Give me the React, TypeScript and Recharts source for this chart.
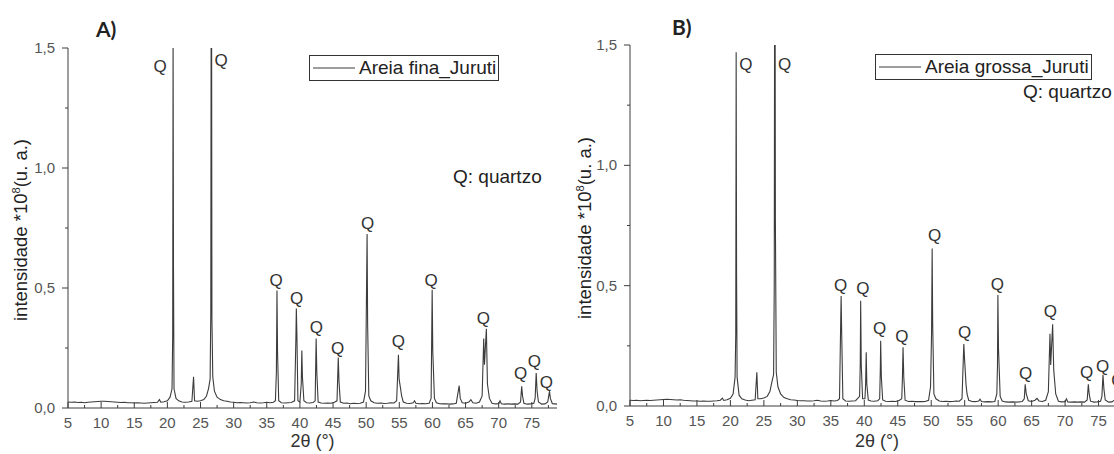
import React from "react";
import { LineChart, Line, XAxis, YAxis, ReferenceDot, Legend } from "recharts";

// A) Areia fina_Juruti
const twoThetaA = [
  5.0, 5.5, 6.0, 6.5, 7.0, 7.5, 8.0, 8.5, 9.0, 9.5, 10.0, 10.5, 11.0, 11.5, 12.0, 12.5, 13.0, 13.5, 14.0, 14.5,
  15.0, 15.5, 16.0, 16.5, 17.0, 17.5, 18.0, 18.5, 18.8, 19.0, 19.5, 20.0, 20.4, 20.7, 20.8, 20.86, 20.92, 21.0, 21.3, 21.7,
  22.2, 22.7, 23.2, 23.7, 23.95, 24.1, 24.5, 25.0, 25.5, 25.9, 26.2, 26.45, 26.55, 26.64, 26.72, 26.85, 27.1, 27.5, 28.0, 28.5,
  29.0, 29.5, 30.0, 30.5, 31.0, 31.5, 32.0, 32.5, 33.0, 33.5, 34.0, 34.5, 35.0, 35.5, 36.0, 36.3, 36.45, 36.54, 36.62, 36.8,
  37.2, 37.7, 38.2, 38.7, 39.2, 39.4, 39.46, 39.55, 39.7, 40.0, 40.2, 40.29, 40.38, 40.6, 41.0, 41.5, 42.0, 42.3, 42.45, 42.55,
  42.75, 43.2, 43.7, 44.2, 44.7, 45.2, 45.6, 45.79, 45.9, 46.1, 46.6, 47.1, 47.6, 48.1, 48.6, 49.1, 49.6, 49.9, 50.14, 50.22,
  50.4, 50.7, 51.2, 51.7, 52.2, 52.7, 53.2, 53.7, 54.2, 54.6, 54.87, 54.97, 55.2, 55.35, 55.6, 56.1, 56.6, 57.1, 57.3, 57.5,
  58.0, 58.5, 59.0, 59.5, 59.8, 59.96, 60.05, 60.3, 60.6, 61.1, 61.6, 62.1, 62.6, 63.1, 63.6, 64.04, 64.2, 64.5, 65.0, 65.5,
  65.8, 66.1, 66.6, 67.1, 67.5, 67.74, 67.85, 68.14, 68.3, 68.6, 69.0, 69.5, 70.0, 70.2, 70.4, 70.9, 71.4, 71.9, 72.4, 72.9,
  73.3, 73.47, 73.6, 73.8, 74.3, 74.8, 75.3, 75.5, 75.66, 75.8, 76.0, 76.5, 77.0, 77.4, 77.67, 77.8, 78.1, 78.5, 78.8,
];
const intensityA = [
  0.025, 0.024, 0.025, 0.023, 0.024, 0.022, 0.024, 0.025, 0.026, 0.027, 0.028, 0.028, 0.027, 0.026, 0.025, 0.024, 0.023, 0.024, 0.022, 0.022,
  0.021, 0.022, 0.021, 0.02, 0.021, 0.022, 0.023, 0.024, 0.035, 0.024, 0.026, 0.03, 0.045, 0.08, 0.3, 1.55, 0.59, 0.08, 0.04, 0.03,
  0.025, 0.024, 0.025, 0.028, 0.13, 0.03, 0.028, 0.03, 0.035, 0.05, 0.08, 0.12, 0.4, 2.5, 0.37, 0.13, 0.07, 0.045, 0.035, 0.03,
  0.028, 0.025, 0.024, 0.022, 0.023, 0.022, 0.021, 0.022, 0.025, 0.022, 0.021, 0.022, 0.024, 0.022, 0.024, 0.03, 0.15, 0.49, 0.24, 0.03,
  0.022, 0.021, 0.022, 0.023, 0.03, 0.3, 0.415, 0.3, 0.03, 0.025, 0.1, 0.24, 0.13, 0.03, 0.022, 0.021, 0.023, 0.03, 0.29, 0.15,
  0.025, 0.021, 0.02, 0.021, 0.02, 0.024, 0.03, 0.21, 0.11, 0.025, 0.02, 0.021, 0.018, 0.02, 0.019, 0.02, 0.025, 0.07, 0.725, 0.35,
  0.05, 0.03, 0.022, 0.02, 0.021, 0.019, 0.02, 0.022, 0.021, 0.03, 0.222, 0.12, 0.08, 0.05, 0.025, 0.02, 0.019, 0.022, 0.03, 0.02,
  0.018, 0.019, 0.018, 0.02, 0.04, 0.493, 0.24, 0.04, 0.022, 0.018, 0.017, 0.018, 0.016, 0.017, 0.02, 0.093, 0.04, 0.022, 0.02, 0.025,
  0.035, 0.022, 0.02, 0.025, 0.05, 0.29, 0.18, 0.33, 0.1, 0.04, 0.02, 0.017, 0.018, 0.03, 0.018, 0.016, 0.017, 0.016, 0.017, 0.016,
  0.025, 0.09, 0.05, 0.02, 0.016, 0.017, 0.02, 0.04, 0.146, 0.07, 0.025, 0.016, 0.017, 0.025, 0.07, 0.04, 0.018, 0.017, 0.016,
];

// B) Areia grossa_Juruti
const twoThetaB = [
  5.0, 5.5, 6.0, 6.5, 7.0, 7.5, 8.0, 8.5, 9.0, 9.5, 10.0, 10.5, 11.0, 11.5, 12.0, 12.5, 13.0, 13.5, 14.0, 14.5,
  15.0, 15.5, 16.0, 16.5, 17.0, 17.5, 18.0, 18.5, 18.8, 19.0, 19.5, 20.0, 20.4, 20.7, 20.8, 20.86, 20.92, 21.0, 21.3, 21.7,
  22.2, 22.7, 23.2, 23.7, 23.95, 24.1, 24.5, 25.0, 25.5, 25.9, 26.2, 26.45, 26.55, 26.64, 26.72, 26.85, 27.1, 27.5, 28.0, 28.5,
  29.0, 29.5, 30.0, 30.5, 31.0, 31.5, 32.0, 32.5, 33.0, 33.5, 34.0, 34.5, 35.0, 35.5, 36.0, 36.3, 36.45, 36.54, 36.62, 36.8,
  37.2, 37.7, 38.2, 38.7, 39.3, 39.4, 39.46, 39.55, 39.75, 40.1, 40.2, 40.29, 40.38, 40.6, 41.0, 41.5, 42.0, 42.3, 42.4, 42.45,
  42.55, 42.75, 43.2, 43.7, 44.2, 44.7, 45.2, 45.6, 45.7, 45.79, 45.9, 46.1, 46.6, 47.1, 47.6, 48.1, 48.6, 49.1, 49.6, 49.9,
  50.05, 50.14, 50.22, 50.4, 50.7, 51.2, 51.7, 52.2, 52.7, 53.2, 53.7, 54.2, 54.6, 54.8, 54.87, 54.97, 55.2, 55.35, 55.6, 56.1,
  56.6, 57.1, 57.3, 57.5, 58.0, 58.5, 59.0, 59.5, 59.8, 59.9, 59.96, 60.05, 60.3, 60.6, 61.1, 61.6, 62.1, 62.6, 63.1, 63.6,
  63.9, 64.04, 64.2, 64.5, 65.0, 65.5, 65.8, 66.1, 66.6, 67.1, 67.5, 67.74, 67.85, 68.14, 68.3, 68.6, 69.0, 69.5, 70.0, 70.2,
  70.4, 70.9, 71.4, 71.9, 72.4, 72.9, 73.3, 73.47, 73.6, 73.8, 74.3, 74.8, 75.3, 75.5, 75.66, 75.8, 76.0, 76.5, 77.0, 77.4,
  77.67, 77.8, 78.1, 78.5, 78.8,
];
const intensityB = [
  0.024, 0.023, 0.024, 0.022, 0.023, 0.024, 0.023, 0.024, 0.025, 0.026, 0.027, 0.028, 0.027, 0.026, 0.025, 0.026, 0.024, 0.023, 0.022, 0.021,
  0.021, 0.02, 0.021, 0.02, 0.02, 0.021, 0.022, 0.024, 0.033, 0.023, 0.026, 0.032, 0.05, 0.12, 0.3, 1.47, 0.56, 0.12, 0.045, 0.03,
  0.025, 0.022, 0.024, 0.026, 0.14, 0.03, 0.03, 0.033, 0.04, 0.06, 0.1, 0.13, 0.5, 2.5, 0.77, 0.14, 0.08, 0.05, 0.035, 0.03,
  0.026, 0.025, 0.023, 0.022, 0.022, 0.021, 0.021, 0.022, 0.024, 0.021, 0.02, 0.021, 0.023, 0.021, 0.023, 0.03, 0.3, 0.457, 0.31, 0.03,
  0.021, 0.02, 0.021, 0.022, 0.04, 0.18, 0.437, 0.17, 0.03, 0.03, 0.09, 0.223, 0.09, 0.025, 0.021, 0.02, 0.022, 0.03, 0.16, 0.271,
  0.12, 0.025, 0.02, 0.019, 0.02, 0.019, 0.023, 0.03, 0.12, 0.244, 0.12, 0.024, 0.019, 0.02, 0.018, 0.019, 0.018, 0.019, 0.024, 0.08,
  0.3, 0.654, 0.34, 0.05, 0.03, 0.021, 0.019, 0.02, 0.018, 0.019, 0.021, 0.02, 0.03, 0.2, 0.258, 0.2, 0.09, 0.05, 0.024, 0.019,
  0.018, 0.021, 0.028, 0.019, 0.017, 0.018, 0.017, 0.019, 0.05, 0.17, 0.461, 0.24, 0.04, 0.021, 0.017, 0.016, 0.017, 0.016, 0.017, 0.019,
  0.03, 0.09, 0.05, 0.022, 0.019, 0.024, 0.032, 0.021, 0.019, 0.024, 0.06, 0.3, 0.17, 0.34, 0.15, 0.05, 0.02, 0.017, 0.018, 0.03,
  0.017, 0.016, 0.017, 0.016, 0.017, 0.016, 0.025, 0.09, 0.05, 0.02, 0.016, 0.017, 0.02, 0.04, 0.13, 0.07, 0.025, 0.016, 0.017, 0.025,
  0.07, 0.04, 0.018, 0.017, 0.016,
];

// "Q" label centres (2θ, intensity)
const qThetaA = [18.9, 28.1, 36.4, 39.5, 42.5, 45.7, 50.2, 54.85, 59.8, 67.7, 73.3, 75.4, 77.2];
const qLevelA = [1.425, 1.45, 0.535, 0.458, 0.336, 0.25, 0.77, 0.278, 0.535, 0.375, 0.146, 0.194, 0.11];
const qThetaB = [22.3, 28.1, 36.45, 39.8, 42.3, 45.6, 50.5, 55.0, 59.9, 64.1, 67.8, 73.2, 75.6, 77.9];
const qLevelB = [1.42, 1.42, 0.503, 0.489, 0.324, 0.292, 0.709, 0.306, 0.507, 0.138, 0.393, 0.14, 0.165, 0.11];

const xTicks = [
  5, 7.5, 10, 12.5, 15, 17.5, 20, 22.5, 25, 27.5, 30, 32.5, 35, 37.5, 40, 42.5, 45, 47.5, 50, 52.5,
  55, 57.5, 60, 62.5, 65, 67.5, 70, 72.5, 75, 77.5,
];
const yTicks = [0, 0.25, 0.5, 0.75, 1, 1.25, 1.5];

const FONT = "'Liberation Sans', Arial, sans-serif";
const INK = "#3c3c3c";

const XTick = (props: any) => {
  const { x, y, payload } = props;
  const major = Math.abs(payload.value % 5) < 1e-6;
  return (
    <g>
      <line x1={x} y1={y} x2={x} y2={y - (major ? 6 : 3)} stroke={INK} />
      {major && (
        <text x={x} y={y + 20} textAnchor="middle" fontSize={15} fill="#555" fontFamily={FONT}>
          {payload.value}
        </text>
      )}
    </g>
  );
};

const YTick = (props: any) => {
  const { x, y, payload } = props;
  const major = Math.abs((payload.value * 2) % 1) < 1e-6;
  return (
    <g>
      <line x1={x} y1={y} x2={x - (major ? 6 : 3)} y2={y} stroke={INK} />
      {major && (
        <text x={x - 13} y={y + 5} textAnchor="end" fontSize={15} fill="#555" fontFamily={FONT}>
          {payload.value.toFixed(1).replace(".", ",")}
        </text>
      )}
    </g>
  );
};

const LegendBox = (props: any) => {
  const item = props.payload && props.payload[0];
  return (
    <div
      style={{
        border: "1px solid #333",
        height: 24,
        padding: "0 2px 0 3px",
        display: "flex",
        alignItems: "center",
        background: "#fff",
        fontSize: 19,
        color: "#222",
        fontFamily: FONT,
        whiteSpace: "nowrap",
      }}
    >
      <svg width={42} height={10}>
        <line x1={0} y1={5} x2={42} y2={5} stroke={INK} strokeWidth={1} />
      </svg>
      <span style={{ marginLeft: 4 }}>{item ? item.value : ""}</span>
    </div>
  );
};

type PanelProps = {
  name: string;
  theta: number[];
  inten: number[];
  qTheta: number[];
  qLevel: number[];
  left: number;
  width: number;
  plotTop: number;
  plotBottom: number;
  axisWidth: number;
  rightMargin: number;
  legendLeft: number;
  legendTop: number;
};

const Panel = (p: PanelProps) => {
  const data = p.theta.map((t, i) => ({ t, v: p.inten[i] }));
  return (
    <div style={{ position: "absolute", left: p.left, top: 0 }}>
      <LineChart
        width={p.width}
        height={454}
        data={data}
        margin={{ top: p.plotTop, right: p.rightMargin, bottom: 0, left: 0 }}
        style={{ fontFamily: FONT }}
      >
        <XAxis
          dataKey="t"
          type="number"
          domain={[5, 78.8]}
          allowDataOverflow
          ticks={xTicks}
          interval={0}
          tick={<XTick />}
          tickLine={false}
          tickSize={0}
          tickMargin={0}
          height={454 - p.plotBottom}
          axisLine={{ stroke: INK }}
          label={{ value: "2θ (°)", position: "insideBottom", offset: 7, fontSize: 18, fill: "#333" }}
        />
        <XAxis
          xAxisId="top"
          orientation="top"
          type="number"
          domain={[5, 78.8]}
          tick={false}
          tickLine={false}
          height={0}
          axisLine={{ stroke: INK }}
        />
        <YAxis
          type="number"
          domain={[0, 1.5]}
          allowDataOverflow
          ticks={yTicks}
          interval={0}
          tick={<YTick />}
          tickLine={false}
          tickSize={0}
          tickMargin={0}
          width={p.axisWidth}
          axisLine={{ stroke: INK }}
        />
        <YAxis
          yAxisId="right"
          orientation="right"
          type="number"
          domain={[0, 1.5]}
          tick={false}
          tickLine={false}
          width={0}
          axisLine={{ stroke: INK }}
        />
        <Legend
          verticalAlign="middle"
          align="center"
          layout="horizontal"
          content={<LegendBox />}
          wrapperStyle={{ left: p.legendLeft, top: p.legendTop, width: "auto" }}
        />
        <Line
          type="linear"
          dataKey="v"
          name={p.name}
          stroke={INK}
          strokeWidth={1.1}
          dot={false}
          activeDot={false}
          isAnimationActive={false}
        />
        {p.qTheta.map((t, i) => (
          <ReferenceDot
            key={i}
            x={t}
            y={p.qLevel[i]}
            r={0}
            fill="none"
            stroke="none"
            ifOverflow="visible"
            label={{ value: "Q", position: "center", fontSize: 17, fill: "#333" }}
          />
        ))}
      </LineChart>
    </div>
  );
};

const textStyle: React.CSSProperties = {
  position: "absolute",
  fontFamily: FONT,
  color: "#222",
  whiteSpace: "nowrap",
};

const App = () => {
  return (
    <div
      style={{
        position: "absolute",
        left: 0,
        top: 0,
        width: 1114,
        height: 454,
        overflow: "hidden",
        background: "#fff",
      }}
    >
      <Panel
        name="Areia fina_Juruti"
        theta={twoThetaA}
        inten={intensityA}
        qTheta={qThetaA}
        qLevel={qLevelA}
        left={0}
        width={570}
        plotTop={48}
        plotBottom={408}
        axisWidth={68}
        rightMargin={13}
        legendLeft={309}
        legendTop={55}
      />
      <Panel
        name="Areia grossa_Juruti"
        theta={twoThetaB}
        inten={intensityB}
        qTheta={qThetaB}
        qLevel={qLevelB}
        left={560}
        width={580}
        plotTop={45}
        plotBottom={406}
        axisWidth={70}
        rightMargin={16}
        legendLeft={315}
        legendTop={54}
      />
      <div style={{ ...textStyle, left: 96, top: 16, fontSize: 21, fontWeight: 700, fontFamily: "Lato, sans-serif" }}>A)</div>
      <div style={{ ...textStyle, left: 672, top: 14, fontSize: 21, fontWeight: 700, fontFamily: "Lato, sans-serif" }}>B)</div>
      <div style={{ ...textStyle, left: 453, top: 166, fontSize: 19 }}>Q: quartzo</div>
      <div style={{ ...textStyle, left: 1023, top: 81, fontSize: 19 }}>Q: quartzo</div>
      <div
        style={{
          ...textStyle,
          left: 21,
          top: 230,
          fontSize: 18.5,
          transform: "translate(-50%, -50%) rotate(-90deg)",
        }}
      >
        intensidade *10<sup style={{ fontSize: 11 }}>8</sup>(u. a.)
      </div>
      <div
        style={{
          ...textStyle,
          left: 585,
          top: 228,
          fontSize: 18.5,
          transform: "translate(-50%, -50%) rotate(-90deg)",
        }}
      >
        intensidade *10<sup style={{ fontSize: 11 }}>8</sup>(u. a.)
      </div>
    </div>
  );
};

export default App;
